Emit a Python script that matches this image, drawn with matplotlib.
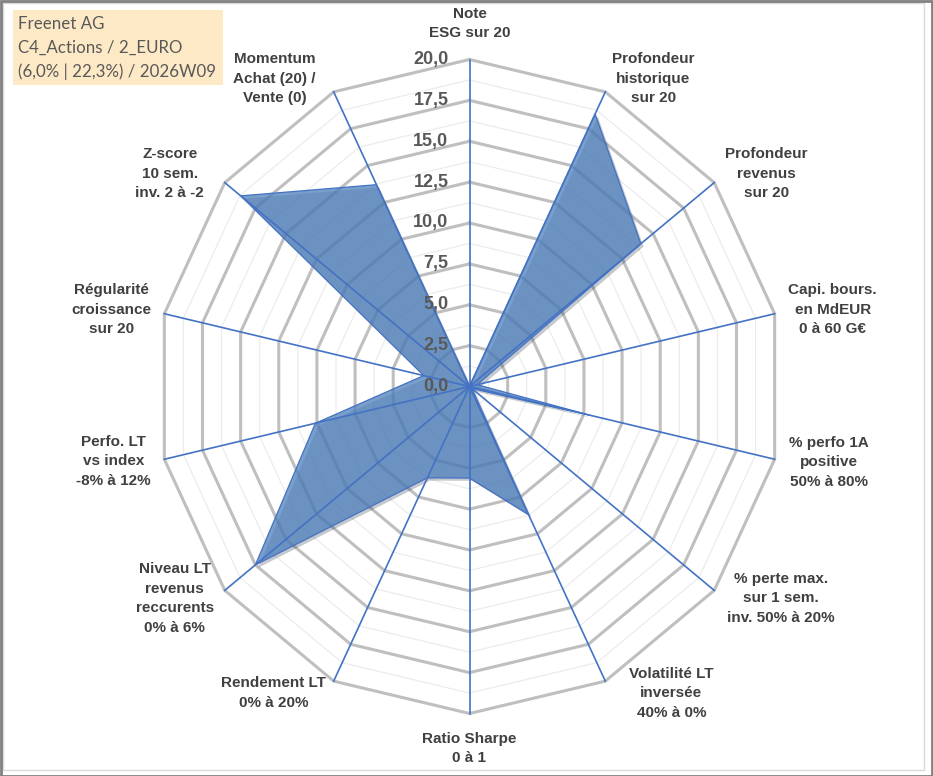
import numpy as np
import matplotlib
matplotlib.use("Agg")
import matplotlib.pyplot as plt
from matplotlib.patches import Rectangle
import matplotlib.patheffects as pe

# ------------------------------
# Data
# ------------------------------
categories = [
    "Note\nESG sur 20",
    "Profondeur\nhistorique\nsur 20",
    "Profondeur\nrevenus\nsur 20",
    "Capi. bours.\nen MdEUR\n0 à 60 G€",
    "% perfo 1A\npositive\n50% à 80%",
    "% perte max.\nsur 1 sem.\ninv. 50% à 20%",
    "Volatilité LT\ninversée\n40% à 0%",
    "Ratio Sharpe\n0 à 1",
    "Rendement LT\n0% à 20%",
    "Niveau LT\nrevenus\nreccurents\n0% à 6%",
    "Perfo. LT\nvs index\n-8% à 12%",
    "Régularité\ncroissance\nsur 20",
    "Z-score\n10 sem.\ninv. 2 à -2",
    "Momentum\nAchat (20) /\nVente (0)",
]
scores = [0.0, 18.5, 14.0, 0.5, 7.9, 0.2, 8.7, 5.6, 6.2, 17.5, 10.1, 3.0, 18.7, 13.7]

major_levels = [0.0, 2.5, 5.0, 7.5, 10.0, 12.5, 15.0, 17.5, 20.0]
minor_levels = [1.25, 3.75, 6.25, 8.75, 11.25, 13.75, 16.25, 18.75]

title_lines = ["Freenet AG", "C4_Actions / 2_EURO", "(6,0% | 22,3%) / 2026W09"]

# label offsets from the end of each spoke (pixels, y up)
label_offsets = [(0, 36), (48, 13), (52, 9), (58, 4), (54, -3), (67, -8), (66, -12),
                 (0, -35), (-60, -12), (-50, -8), (-51, -2), (-53, 4), (-55, 9), (-59, 13)]

# ------------------------------
# Figure
# ------------------------------
W, H = 933, 776
fig = plt.figure(figsize=(W / 100, H / 100), dpi=100)
fig.patch.set_facecolor("white")

cx, cy, rx, ry = 469.5, 386.5, 313, 327
ax = fig.add_axes([(cx - rx) / W, (H - cy - ry) / H, 2 * rx / W, 2 * ry / H],
                  projection="polar")
ax.set_aspect("auto")
ax.set_theta_zero_location("N")
ax.set_theta_direction(-1)
ax.set_ylim(0, 20)
ax.grid(False)
ax.set_xticks([])
ax.set_yticks([])
ax.spines["polar"].set_visible(False)
ax.patch.set_visible(False)

n = len(categories)
angles = np.arange(n) * 2 * np.pi / n
closed = np.append(angles, angles[0])

# polygon grid
for r in minor_levels:
    ax.plot(closed, [r] * (n + 1), color="#ececec", lw=0.9, zorder=1, clip_on=False)
for r in major_levels[1:]:
    ax.plot(closed, [r] * (n + 1), color="#bfbfbf", lw=2.2, zorder=1.5, clip_on=False)

# data area
vals = np.append(scores, scores[0])
ax.fill(closed, vals, color="#4f81bd", alpha=0.76, zorder=2, lw=0,
        path_effects=[pe.SimplePatchShadow(offset=(2, -2), alpha=0.25), pe.Normal()])
ax.plot(closed, vals, color="#4472c4", lw=0.9, zorder=3)

# spokes
for a in angles:
    ax.plot([a, a], [0, 20], color="#4472c4", lw=1.2, zorder=4, clip_on=False)

# radial tick labels
for v in major_levels:
    ax.annotate(f"{v:.1f}".replace(".", ","), xy=(0, v), xytext=(-21, 0),
                textcoords="offset pixels", ha="right", va="center",
                fontsize=13, fontweight="bold", color="#595959",
                family="Liberation Sans", zorder=5)

# category labels
for a, lab, (dx, dy) in zip(angles, categories, label_offsets):
    ax.annotate(lab, xy=(a, 20), xytext=(dx, dy), textcoords="offset pixels",
                ha="center", va="center", multialignment="center",
                fontsize=11, fontweight="bold", color="#404040",
                family="Liberation Sans", linespacing=1.5, annotation_clip=False)

# title box
fig.patches.append(Rectangle((13 / W, 1 - 85 / H), 210 / W, 75 / H,
                             transform=fig.transFigure, facecolor="#fde9c6",
                             edgecolor="none", zorder=0))
for i, line in enumerate(title_lines):
    fig.text(18 / W, 1 - (24 + 24 * i) / H, line, ha="left", va="center",
             fontsize=12.2, color="#595959", family="Lato")

# frame
fig.patches.append(Rectangle((3 / W, 6 / H), 921 / W, 767 / H, transform=fig.transFigure,
                             facecolor="none", edgecolor="#d9d9d9", lw=1))
fig.patches.append(Rectangle((0.5 / W, 0.5 / H), (W - 1.5) / W, (H - 1.5) / H,
                             transform=fig.transFigure, facecolor="none",
                             edgecolor="#808080", lw=2))

fig.savefig("out.png", dpi=100)
